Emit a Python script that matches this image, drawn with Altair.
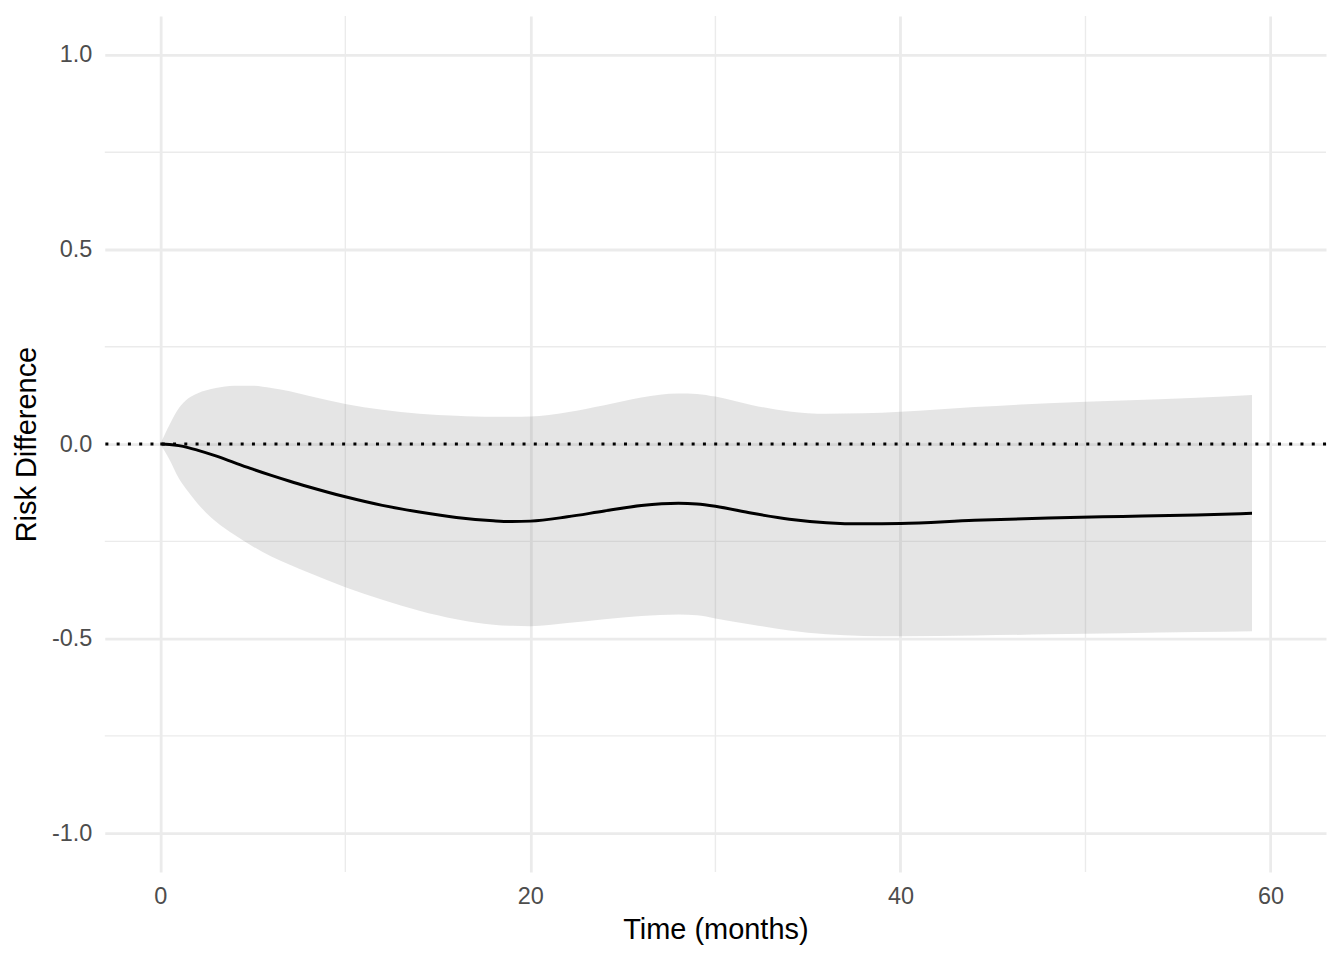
import altair as alt
import pandas as pd

# Data
months = [0, 0.5, 1, 1.5, 2, 3, 4, 5, 6, 7, 8, 10, 12, 14, 16, 18, 19, 20, 22, 24, 26, 28, 29,
          30, 32, 34, 36, 38, 40, 44, 48, 52, 56, 59]
estimate = [0, -0.001, -0.004, -0.009, -0.0155, -0.0305, -0.0475, -0.0645, -0.0805, -0.0955,
            -0.1095, -0.1355, -0.1575, -0.1745, -0.1885, -0.197, -0.199, -0.198, -0.187,
            -0.172, -0.158, -0.152, -0.154, -0.16, -0.178, -0.193, -0.202, -0.205, -0.204,
            -0.196, -0.19, -0.186, -0.182, -0.178]
upper = [0, 0.05, 0.092, 0.117, 0.13, 0.144, 0.15, 0.15, 0.144, 0.136, 0.124, 0.103, 0.088,
         0.078, 0.073, 0.07, 0.07, 0.071, 0.082, 0.1, 0.12, 0.13, 0.129, 0.122, 0.1, 0.084,
         0.078, 0.079, 0.083, 0.095, 0.105, 0.112, 0.119, 0.126]
lower = [0, -0.04, -0.088, -0.122, -0.152, -0.199, -0.233, -0.263, -0.289, -0.31, -0.33,
         -0.368, -0.4, -0.428, -0.45, -0.464, -0.467, -0.468, -0.46, -0.45, -0.442, -0.438,
         -0.44, -0.448, -0.464, -0.479, -0.489, -0.493, -0.494, -0.492, -0.489, -0.486,
         -0.483, -0.481]

x_major = [0, 20, 40, 60]
x_minor = [10, 30, 50]
y_major = [-1.0, -0.5, 0.0, 0.5, 1.0]
y_minor = [-0.75, -0.25, 0.25, 0.75]
ref_line = [0.0]

df = pd.DataFrame({"month": months, "est": estimate, "lo": lower, "hi": upper})

FONT = "Liberation Sans"
x_scale = alt.Scale(domain=[-3, 63], nice=False, zero=False)
y_scale = alt.Scale(domain=[-1.1, 1.1], nice=False, zero=False)

x_axis = alt.Axis(values=x_major, title="Time (months)", grid=True, gridColor="#EBEBEB",
                  gridWidth=2.8, domain=False, ticks=False, labelFont=FONT, labelFontSize=23.5,
                  labelColor="#4D4D4D", labelPadding=12, titleFont=FONT, titleFontSize=29,
                  titleFontWeight="normal", titleColor="#000000", titlePadding=8, labelFlush=False)
y_axis = alt.Axis(values=y_major, title="Risk Difference", grid=True,
                  labelExpr="replace(format(datum.value, '.1f'), '\u2212', '-')",
                  gridColor="#EBEBEB", gridWidth=2.8, domain=False, ticks=False, labelFont=FONT,
                  labelFontSize=23.5, labelColor="#4D4D4D", labelPadding=13, titleFont=FONT,
                  titleFontSize=29, titleFontWeight="normal", titleColor="#000000",
                  titlePadding=10, labelFlush=False)

xminor = alt.Chart(pd.DataFrame({"v": x_minor})).mark_rule(color="#EBEBEB", strokeWidth=1.4).encode(
    x=alt.X("v:Q", scale=x_scale, axis=x_axis))
yminor = alt.Chart(pd.DataFrame({"v": y_minor})).mark_rule(color="#EBEBEB", strokeWidth=1.4).encode(
    y=alt.Y("v:Q", scale=y_scale, axis=y_axis))

band = alt.Chart(df).mark_area(color="#7F7F7F", opacity=0.2, interpolate="monotone").encode(
    x=alt.X("month:Q", scale=x_scale),
    y=alt.Y("lo:Q", scale=y_scale),
    y2="hi:Q")

line = alt.Chart(df).mark_line(color="#000000", strokeWidth=3, interpolate="monotone").encode(
    x=alt.X("month:Q", scale=x_scale),
    y=alt.Y("est:Q", scale=y_scale))

hline = alt.Chart(pd.DataFrame({"v": ref_line})).mark_rule(
    color="#000000", strokeWidth=3, strokeDash=[3, 8.3]).encode(
    y=alt.Y("v:Q", scale=y_scale))

chart = alt.layer(xminor, yminor, band, line, hline).properties(
    width=1224, height=858,
    autosize=alt.AutoSizeParams(type="none"),
    padding={"left": 97, "top": 7, "right": 10, "bottom": 80},
).configure(background="white").configure_view(stroke=None)

chart.save("out.html", embed_options={"renderer": "svg", "actions": False})
